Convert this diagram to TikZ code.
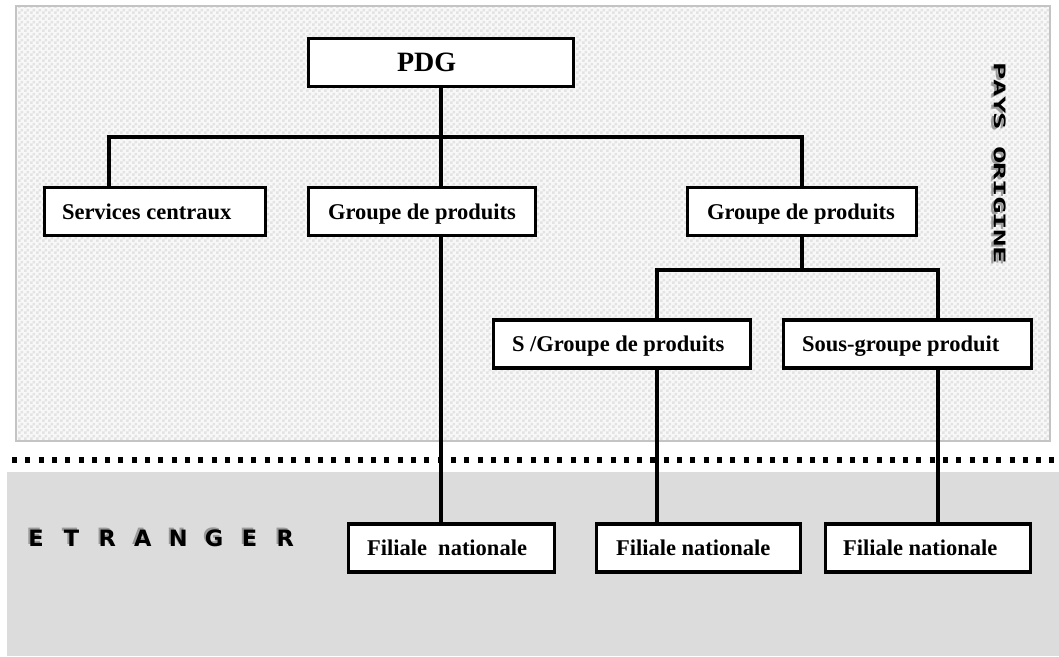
\documentclass[tikz,border=0pt]{standalone}
\usepackage{fontspec}
\setmainfont{Liberation Serif}
\newfontfamily\etrfont{DejaVu Sans}
\newfontfamily\paysfont{DejaVu Sans Mono}
\usetikzlibrary{patterns.meta}

\definecolor{chkbg}{HTML}{F8F8F8}
\definecolor{chkfg}{HTML}{E3E3E3}
\definecolor{zoneedge}{HTML}{C4C4C4}
\definecolor{abroad}{HTML}{DCDCDC}
\definecolor{shadowgray}{HTML}{9A9A9A}

% small checkerboard used for the home-country zone
\pgfdeclarepattern{
  name=chk, type=uncolored,
  bottom left={\pgfpoint{0pt}{0pt}}, top right={\pgfpoint{6pt}{6pt}},
  tile size={\pgfpoint{6pt}{6pt}},
  code={
    \pgfpathrectangle{\pgfpoint{0pt}{0pt}}{\pgfpoint{3pt}{3pt}}
    \pgfpathrectangle{\pgfpoint{3pt}{3pt}}{\pgfpoint{3pt}{3pt}}
    \pgfusepath{fill}
  }}

% box text: total width #1, left padding #2
\newcommand{\orgtext}[3]{\makebox[#1pt][l]{\hspace*{#2pt}#3}}

\begin{document}
\begin{tikzpicture}[x=1pt,y=-1pt,
  orgbox/.style={draw=black, line width=3.5pt, fill=white, inner xsep=0pt,
    inner ysep=0pt, minimum height=48pt, text height=15pt, text depth=0pt,
    font=\bfseries\fontsize{22.5}{27}\selectfont},
  link/.style={line width=3.5pt, line join=miter},
  etr/.style={inner sep=0pt, text height=16.5pt, text depth=0pt,
    font=\etrfont\bfseries\fontsize{22.5}{26}\selectfont},
  pays/.style={inner sep=0pt, rotate=-90, text height=11.5pt, text depth=0pt,
    font=\paysfont\bfseries\fontsize{16}{18}\selectfont}
]
\useasboundingbox (0,0) rectangle (1059,656);
\fill[white] (0,0) rectangle (1059,656);

% zones
\fill[chkbg] (16,6) rectangle (1050,441);
\fill[pattern=chk, pattern color=chkfg] (16,6) rectangle (1050,441);
\draw[zoneedge, line width=2.5pt] (16,6) rectangle (1050,441);
\fill[abroad] (7,472) rectangle (1059,656);
\draw[line width=5.5pt, dash pattern=on 5pt off 8.3pt] (12,460) -- (1059,460);

% boxes
\node[orgbox, text height=18.5pt, font=\bfseries\fontsize{28}{32}\selectfont]
  (pdg) at (441,62.5) {\orgtext{265}{88.5}{PDG}};
\node[orgbox] (svc)  at (155,211.5) {\orgtext{221}{17.5}{Services centraux}};
\node[orgbox] (grp1) at (422,211.5) {\orgtext{227}{19.5}{Groupe de produits}};
\node[orgbox] (grp2) at (802,211.5) {\orgtext{229}{19.5}{Groupe de produits}};
\node[orgbox] (sg1)  at (622,344)   {\orgtext{257}{18.5}{S /Groupe de produits}};
\node[orgbox] (sg2)  at (907.5,344) {\orgtext{248}{18.5}{Sous-groupe produit}};
\node[orgbox] (fil1) at (451.5,548) {\orgtext{206}{18.5}{Filiale\ \ nationale}};
\node[orgbox] (fil2) at (698.5,548) {\orgtext{204}{19.5}{Filiale nationale}};
\node[orgbox] (fil3) at (928,548)   {\orgtext{205}{17.5}{Filiale nationale}};

% junction points of the tree
\coordinate (bus) at (441,137);
\coordinate (j1) at (657,270);
\coordinate (j2) at (938,270);

% connectors
\draw[link] ([xshift=-46pt]svc.north) |- (bus) -| (grp2.north);
\draw[link] (pdg.south) -- (pdg.south |- grp1.north);
\draw[link] (pdg.south |- grp1.south) -- (pdg.south |- fil1.north);
\draw[link] (grp2.south) -- (grp2.south |- j1);
\draw[link] (j1 |- sg1.north) -- (j1) -- (j2) -- (j2 |- sg2.north);
\draw[link] (j1 |- sg1.south) -- (j1 |- fil2.north);
\draw[link] (j2 |- sg2.south) -- (j2 |- fil3.north);

% zone labels with their grey shadows
\foreach \l [count=\i from 0] in {E,T,R,A,N,G,E,R} {
  \node[etr, shadowgray] (etrs\i) at ({36+35.6*\i-2},536) {\l};
  \node[etr] (etr\i) at ({36+35.6*\i},538) {\l};
}
\foreach \i/\l in {0/P,1/A,2/Y,3/S,5/O,6/R,7/I,8/G,9/I,10/N,11/E} {
  \node[pays, shadowgray] (pays\i) at (997,{63+16.7*(\i+0.5)+2}) {\scalebox{1.8}[1]{\l}};
  \node[pays] (payb\i) at (999.5,{63+16.7*(\i+0.5)}) {\scalebox{1.8}[1]{\l}};
}
\end{tikzpicture}
\end{document}
